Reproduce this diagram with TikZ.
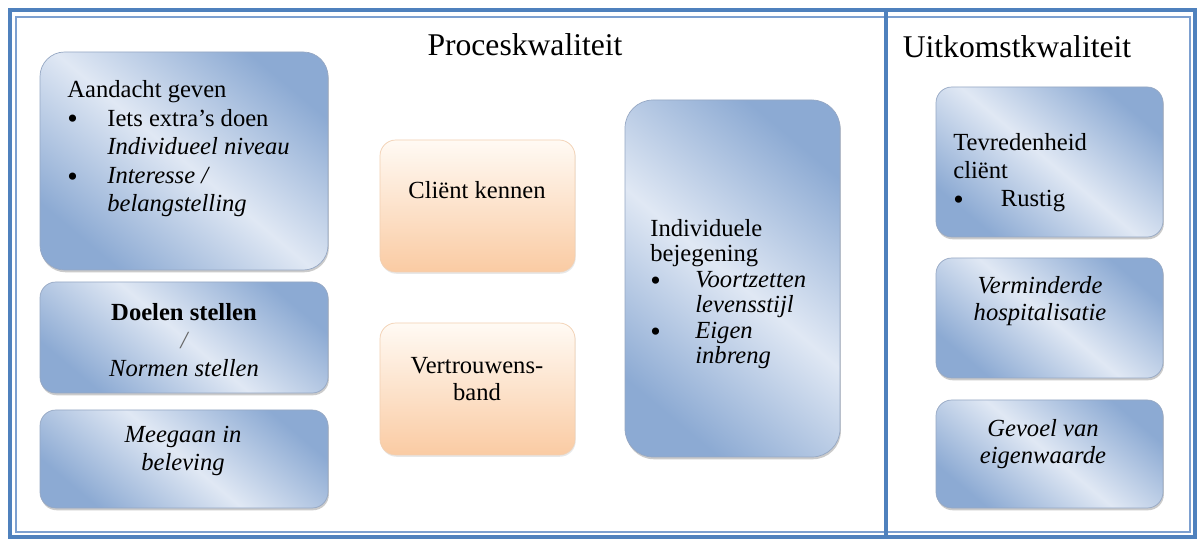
\documentclass[tikz,border=0pt]{standalone}
\usepackage{fontspec}
\setmainfont{Liberation Serif}
\usetikzlibrary{fit,shadows}
\definecolor{frameblue}{RGB}{79,129,189}
\definecolor{framelight}{RGB}{125,160,208}
\definecolor{bluedark}{RGB}{140,170,211}
\definecolor{bluelight}{RGB}{224,232,244}
\definecolor{boxedge}{RGB}{150,168,196}
\definecolor{orangelight}{RGB}{255,250,244}
\definecolor{orangedark}{RGB}{250,203,163}
\definecolor{orangeedge}{RGB}{242,208,178}
\newcommand{\bitem}[1][0.8cm]{\makebox[#1][l]{\fontsize{17}{0}\selectfont\raisebox{-0.2ex}{\textbullet}}}
\tikzset{
  frameline/.style={draw=frameblue, line width=2.2pt},
  frameinner/.style={draw=framelight, line width=0.7pt},
  bluebox/.style={draw=boxedge, rounded corners=9pt, inner sep=0pt, top color=bluedark, bottom color=bluedark, middle color=bluelight, shading angle=-40, drop shadow={fill=black!45, opacity=0.45, shadow xshift=0.5pt, shadow yshift=-1.3pt}},
  orangebox/.style={draw=orangeedge, rounded corners=9pt, inner sep=0pt, top color=orangelight, bottom color=orangedark, drop shadow={fill=black!30, opacity=0.3, shadow xshift=0.4pt, shadow yshift=-1pt}},
  boxtext/.style={font=\fontsize{14}{15.5}\selectfont, align=left, inner sep=0pt},
  midtext/.style={font=\fontsize{14}{15.5}\selectfont, align=center, inner sep=0pt},
  titletext/.style={font=\fontsize{18}{20}\selectfont, inner sep=0pt}
}
\begin{document}
\begin{tikzpicture}[x=0.02cm, y=-0.02cm]
\useasboundingbox (0,0) rectangle (1197,540);
\fill[white] (0,0) rectangle (1197,540);

% frame and divider
\draw[frameline] (10,10) rectangle (1195,537);
\draw[frameinner] (16,17) rectangle (1190,532);
\draw[frameline, line width=1.8pt] (886,10) -- (886,537);

\node[titletext] (proces) at (525,45) {Proceskwaliteit};
\node[titletext] (uitkomst) at (1017,47) {Uitkomstkwaliteit};

% left column
\node[bluebox, rounded corners=14pt, fit={(40,52) (328,270)}] (aandacht) {};
\node[bluebox, fit={(40,282) (328,393)}] (doelen) {};
\node[bluebox, fit={(40,410) (328,508)}] (meegaan) {};

\node[boxtext, anchor=north west, font=\fontsize{14}{16.3}\selectfont] (aandachttxt) at (67,80) {Aandacht geven\\
  \bitem Iets extra's doen\\
  \hspace*{0.8cm}\textit{Individueel niveau}\\
  \bitem\textit{Interesse /}\\
  \hspace*{0.8cm}\textit{belangstelling}};
\node[midtext, font=\fontsize{14}{16}\selectfont] (doelentxt) at (184,340) {\textbf{Doelen stellen}\\ \textit{\color{black!60}/}\\ \textit{Normen stellen}};
\node[midtext] (meegaantxt) at (183,451) {\textit{Meegaan in}\\ \textit{beleving}};

% middle column
\node[orangebox, fit={(380,140) (575,272)}] (client) {};
\node[orangebox, fit={(380,323) (575,455)}] (vertrouwen) {};
\node[midtext] (clienttxt) at (477,190) {Cliënt kennen};
\node[midtext] (vertrouwentxt) at (477,379) {Vertrouwens-\\band};

\node[bluebox, rounded corners=16pt, fit={(625,100) (840,457)}] (bejegening) {};
\node[boxtext, anchor=north west, font=\fontsize{14}{14.5}\selectfont] (bejegeningtxt) at (650,219) {Individuele\\
  bejegening\\
  \bitem[0.9cm]\textit{Voortzetten}\\
  \hspace*{0.9cm}\textit{levensstijl}\\
  \bitem[0.9cm]\textit{Eigen}\\
  \hspace*{0.9cm}\textit{inbreng}};

% right column
\node[bluebox, fit={(936,87) (1163,237)}] (tevreden) {};
\node[bluebox, fit={(936,258) (1163,378)}] (verminderd) {};
\node[bluebox, fit={(936,400) (1163,508)}] (eigenwaarde) {};

\node[boxtext, anchor=north west, font=\fontsize{14}{16}\selectfont] (tevredentxt) at (953,133) {Tevredenheid\\
  cliënt\\
  \bitem[0.95cm]Rustig};
\node[midtext] (verminderdtxt) at (1040,301) {\textit{Verminderde}\\ \textit{hospitalisatie}};
\node[midtext] (eigenwaardetxt) at (1043,444) {\textit{Gevoel van}\\ \textit{eigenwaarde}};
\end{tikzpicture}
\end{document}
